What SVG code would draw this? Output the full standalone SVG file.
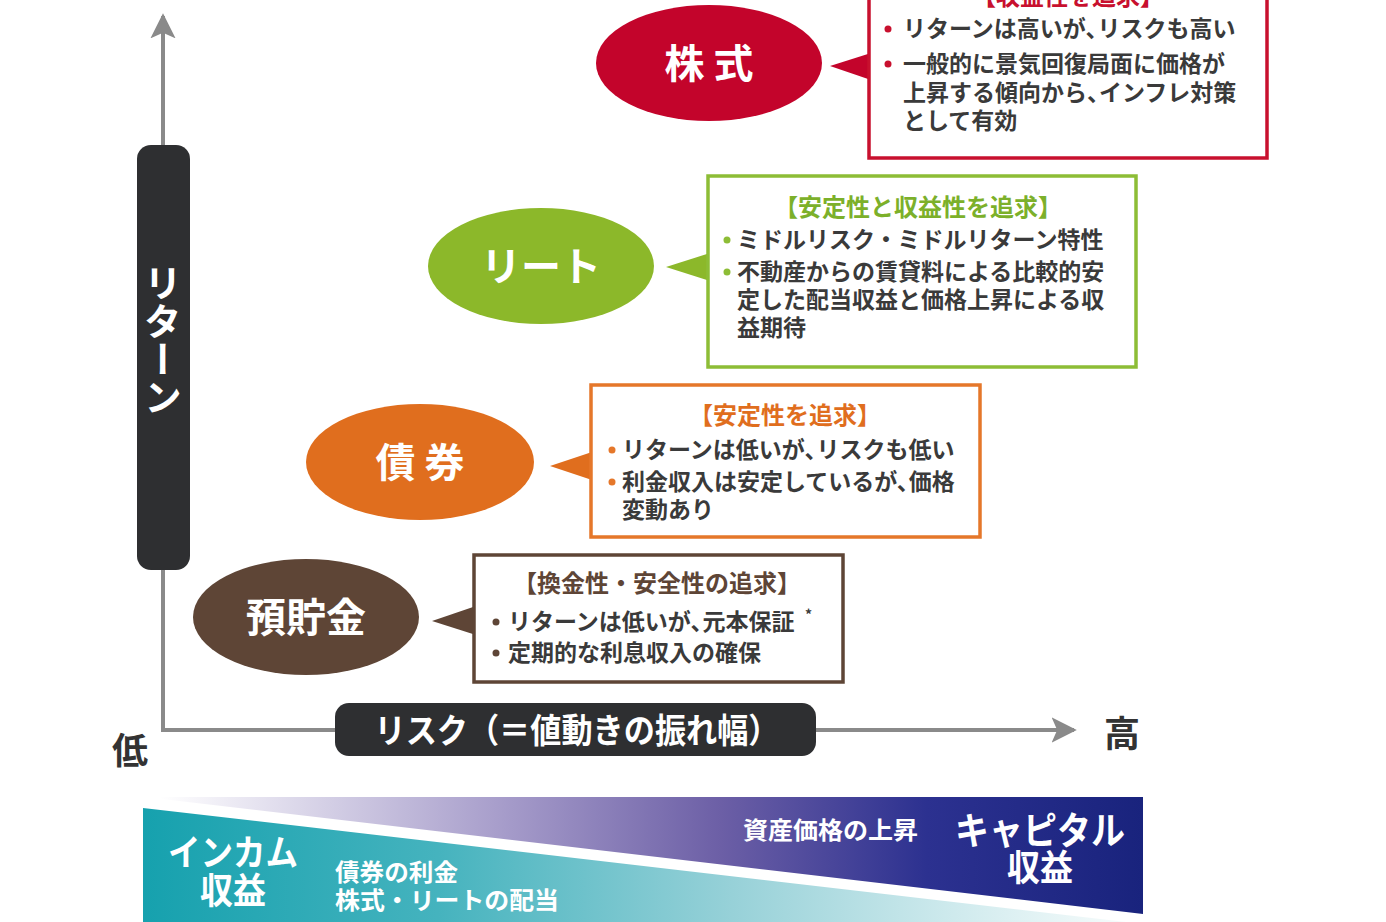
<svg xmlns="http://www.w3.org/2000/svg" width="1386" height="922" viewBox="0 0 1386 922">
<defs>
<style>
text{font-family:"Noto Sans CJK JP","Noto Sans",sans-serif;}
.axis{stroke:#8a8a8a;stroke-width:4;fill:none;}
.pill{fill:#2e2f31;}
.ell{font-size:40px;font-weight:700;fill:#fff;text-anchor:middle;}
.ttl{font-size:24px;font-weight:700;text-anchor:middle;}
.body{font-size:23px;font-weight:700;fill:#3a3a3a;}
.wt{fill:#fff;font-weight:700;}
.box{fill:#fff;stroke-width:3.5;}
</style>
<marker id="arr" viewBox="0 0 20 20" refX="16" refY="10" markerWidth="7" markerHeight="7" orient="auto" markerUnits="strokeWidth">
<path d="M0,1 L18,10 L0,19 L4,10 z" fill="#8a8a8a"/>
</marker>
<linearGradient id="gTeal" x1="143" y1="0" x2="1125" y2="0" gradientUnits="userSpaceOnUse">
<stop offset="0" stop-color="#16a1ae"/>
<stop offset="0.3" stop-color="#45b3be"/>
<stop offset="0.6" stop-color="#97d1d8"/>
<stop offset="0.88" stop-color="#dcf0f2"/>
<stop offset="1" stop-color="#f6fbfb"/>
</linearGradient>
<linearGradient id="gNavy" x1="160" y1="0" x2="1143" y2="0" gradientUnits="userSpaceOnUse">
<stop offset="0" stop-color="#ffffff"/>
<stop offset="0.35" stop-color="#a69cca"/>
<stop offset="0.57" stop-color="#6c5fa6"/>
<stop offset="0.78" stop-color="#2c3190"/>
<stop offset="1" stop-color="#19237d"/>
</linearGradient>
</defs>

<g id="connectors">
<line class="axis" x1="163" y1="730" x2="163" y2="16" marker-end="url(#arr)"/>
<line class="axis" x1="161" y1="730" x2="1074" y2="730" marker-end="url(#arr)"/>
</g>

<g id="axis-return">
<rect class="pill" x="137" y="145" width="53" height="425" rx="14"/>
<text class="wt" x="163" y="264" font-size="38" style="writing-mode:vertical-rl">リターン</text>
</g>

<g id="axis-risk">
<rect class="pill" x="335" y="703" width="481" height="53" rx="14"/>
<text class="wt" x="577" y="743" font-size="34" text-anchor="middle" textLength="405" lengthAdjust="spacingAndGlyphs">リスク（＝値動きの振れ幅）</text>
</g>

<g id="label-low"><text x="130" y="764" font-size="36" font-weight="700" fill="#333" text-anchor="middle">低</text></g>
<g id="label-high"><text x="1122" y="747" font-size="36" font-weight="700" fill="#333" text-anchor="middle">高</text></g>

<g id="stock">
<ellipse cx="709" cy="63" rx="113" ry="58" fill="#c3042b"/>
<text class="ell" x="709" y="78">株 式</text>
<polygon points="830,66 871,53 871,80" fill="#c3042b"/>
<rect class="box" x="869" y="-6" width="398" height="164" stroke="#c8102e"/>
<text class="ttl" x="1068" y="5" fill="#c8102e">【収益性を追求】</text>
<circle cx="888" cy="29" r="3.5" fill="#c8102e"/>
<text class="body" x="903" y="37">リターンは高いが、<tspan dx="-11">リスクも高い</tspan></text>
<circle cx="888" cy="64" r="3.5" fill="#c8102e"/>
<text class="body" x="903" y="72">一般的に景気回復局面に価格が</text>
<text class="body" x="903" y="101">上昇する傾向から、<tspan dx="-11">インフレ対策</tspan></text>
<text class="body" x="903" y="129">として有効</text>
</g>

<g id="reit">
<ellipse cx="541" cy="266" rx="113" ry="58" fill="#8cb82a"/>
<text class="ell" x="541" y="281">リート</text>
<polygon points="666,267 710,253 710,281" fill="#8cb82a"/>
<rect class="box" x="708" y="176" width="428" height="191" stroke="#8dbd36"/>
<text class="ttl" x="918" y="216" fill="#7cb02a">【安定性と収益性を追求】</text>
<circle cx="727" cy="240" r="3.5" fill="#8dbd36"/>
<text class="body" x="737" y="248">ミドルリスク・ミドルリターン特性</text>
<circle cx="727" cy="272" r="3.5" fill="#8dbd36"/>
<text class="body" x="737" y="280">不動産からの賃貸料による比較的安</text>
<text class="body" x="737" y="308">定した配当収益と価格上昇による収</text>
<text class="body" x="737" y="336">益期待</text>
</g>

<g id="bond">
<ellipse cx="420" cy="462" rx="114" ry="58" fill="#e06e1e"/>
<text class="ell" x="420" y="477">債 券</text>
<polygon points="550,466 592,452 592,480" fill="#e06e1e"/>
<rect class="box" x="591" y="385" width="389" height="152" stroke="#e5772a"/>
<text class="ttl" x="785" y="424" fill="#e06e1e">【安定性を追求】</text>
<circle cx="612" cy="450" r="3.5" fill="#e5772a"/>
<text class="body" x="622" y="458">リターンは低いが、<tspan dx="-11">リスクも低い</tspan></text>
<circle cx="612" cy="482" r="3.5" fill="#e5772a"/>
<text class="body" x="622" y="490">利金収入は安定しているが、<tspan dx="-11">価格</tspan></text>
<text class="body" x="622" y="518">変動あり</text>
</g>

<g id="deposit">
<ellipse cx="306" cy="617" rx="113" ry="58" fill="#5e4536"/>
<text class="ell" x="306" y="632">預貯金</text>
<polygon points="432,621 476,606 476,635" fill="#5e4536"/>
<rect class="box" x="474" y="555" width="369" height="127" stroke="#5e4536"/>
<text class="ttl" x="657" y="592" fill="#5e4536">【換金性・安全性の追求】</text>
<circle cx="496" cy="622" r="3.5" fill="#5e4536"/>
<text class="body" x="508" y="630">リターンは低いが、<tspan dx="-11">元本保証</tspan></text>
<text x="805" y="620" font-size="14" font-weight="700" fill="#3a3a3a">*</text>
<circle cx="496" cy="653" r="3.5" fill="#5e4536"/>
<text class="body" x="508" y="661">定期的な利息収入の確保</text>
</g>

<g id="income-band">
<polygon points="143,808 1126,922 143,922" fill="url(#gTeal)"/>
<polygon points="145,797 1143,797 1143,914" fill="url(#gNavy)"/>
<text class="wt" x="233" y="866" font-size="36" text-anchor="middle" textLength="130" lengthAdjust="spacingAndGlyphs">インカム</text>
<text class="wt" x="233" y="904" font-size="36" text-anchor="middle" textLength="66" lengthAdjust="spacingAndGlyphs">収益</text>
<text class="wt" x="335" y="881" font-size="24" textLength="123" lengthAdjust="spacingAndGlyphs">債券の利金</text>
<text class="wt" x="335" y="909" font-size="24" textLength="224" lengthAdjust="spacingAndGlyphs">株式・リートの配当</text>
<text class="wt" x="743" y="839" font-size="24" textLength="175" lengthAdjust="spacingAndGlyphs">資産価格の上昇</text>
<text class="wt" x="1040" y="844" font-size="38" text-anchor="middle" textLength="170" lengthAdjust="spacingAndGlyphs">キャピタル</text>
<text class="wt" x="1040" y="881" font-size="36" text-anchor="middle" textLength="66" lengthAdjust="spacingAndGlyphs">収益</text>
</g>
</svg>
